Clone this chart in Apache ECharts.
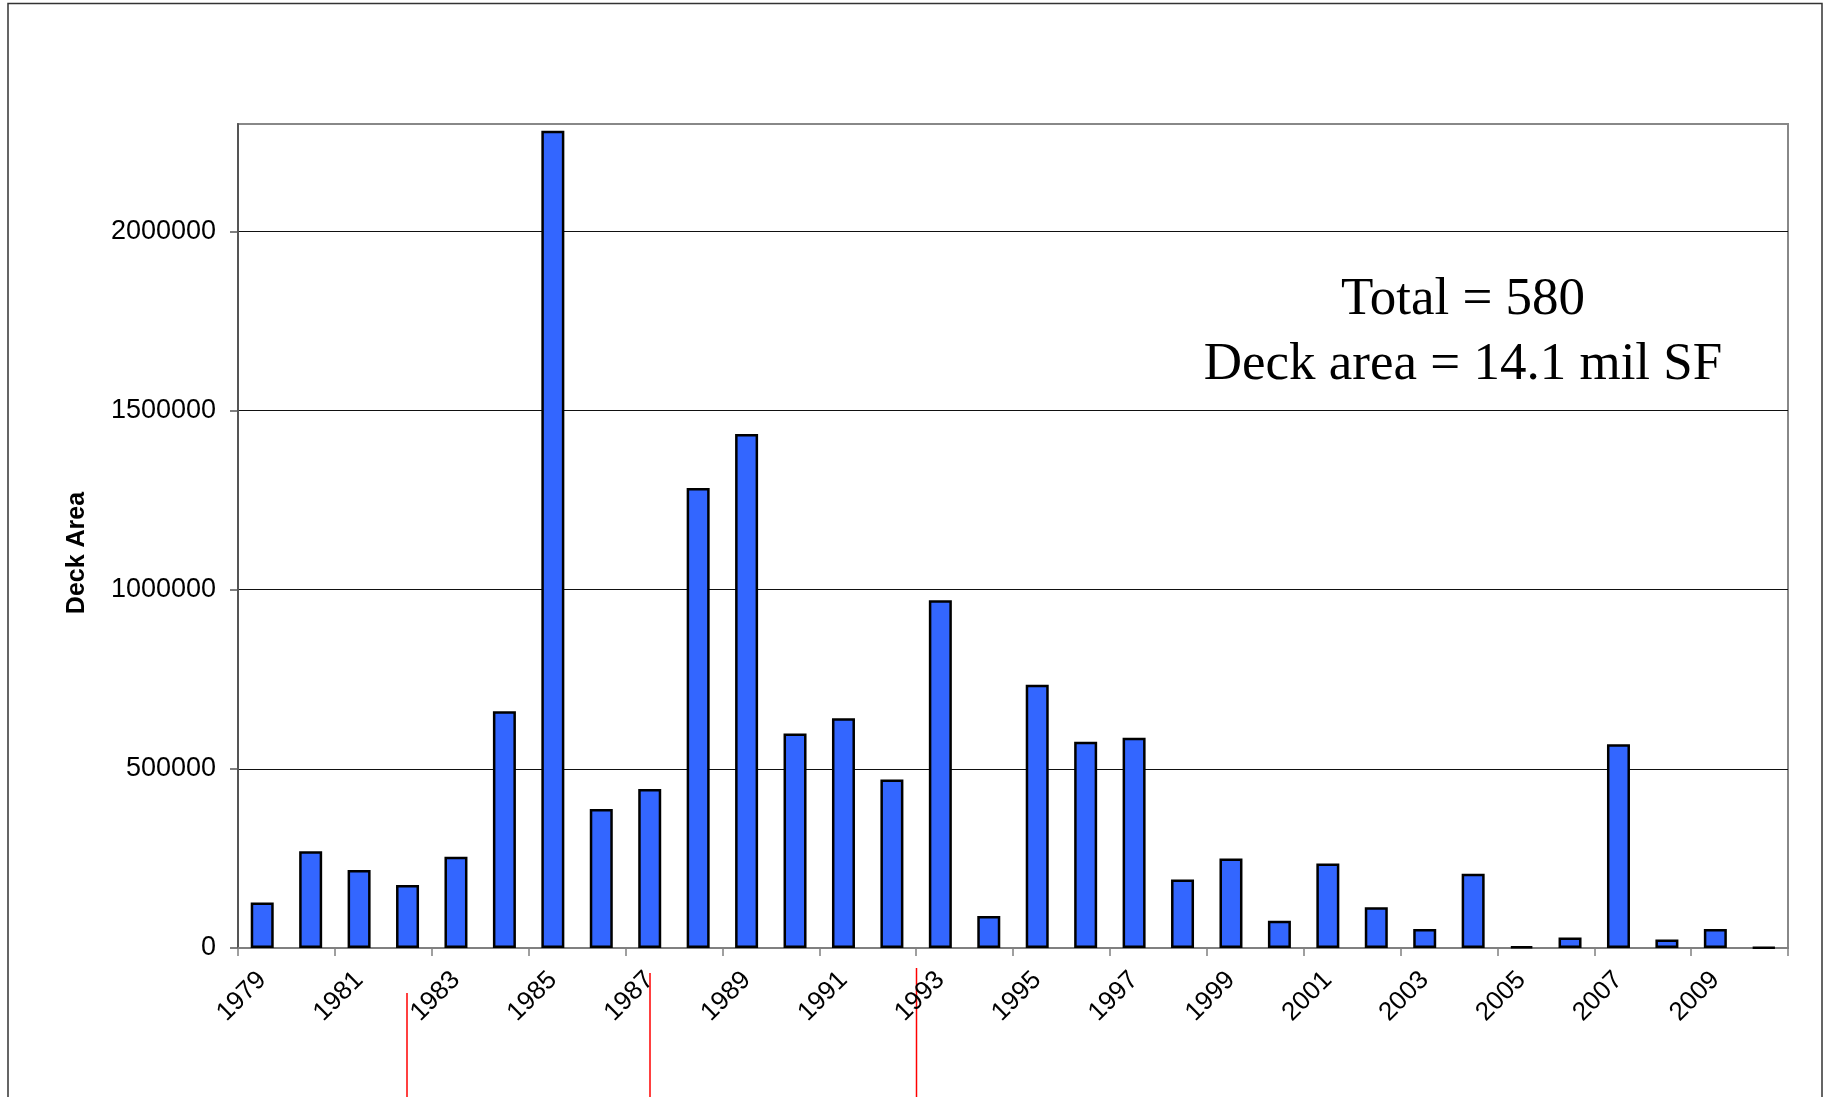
<!DOCTYPE html>
<html>
<head>
<meta charset="utf-8">
<style>
  html, body { margin: 0; padding: 0; background: #fff; }
  #chart { width: 1835px; height: 1097px; }
</style>
<script src="https://cdn.jsdelivr.net/npm/echarts@6/dist/echarts.min.js"></script>
</head>
<body>
<div id="chart"></div>
<script>
// years on the x axis
const years = ['1979', '1980', '1981', '1982', '1983', '1984', '1985', '1986', '1987', '1988',
  '1989', '1990', '1991', '1992', '1993', '1994', '1995', '1996', '1997', '1998',
  '1999', '2000', '2001', '2002', '2003', '2004', '2005', '2006', '2007', '2008',
  '2009', '2010']

// deck area per year (SF)
const deckArea = [127000, 270000, 218000, 176000, 255000, 661000, 2281000, 388000, 444000, 1284000,
  1435000, 599000, 641000, 470000, 971000, 89000, 735000, 576000, 587000, 191000,
  250000, 76000, 236000, 114000, 53000, 207000, 4000, 29000, 569000, 24000,
  53000, 2000]

const noteLines = ['Total = 580', 'Deck area = 14.1 mil SF']

const chart = echarts.init(document.getElementById('chart'))

const option = {
  animation: false,
  backgroundColor: '#fff',
  grid: {
    left: 238,
    right: 47,
    top: 124,
    bottom: 149,
    show: true,
    borderColor: '#888',
    borderWidth: 2
  },
  xAxis: {
    type: 'category',
    data: years,
    boundaryGap: true,
    axisLine: { lineStyle: { color: '#808080', width: 2 } },
    axisTick: { show: true, length: 8, lineStyle: { color: '#808080', width: 1.5 } },
    axisLabel: {
      interval: 1,
      rotate: 45,
      margin: 28,
      color: '#000',
      fontFamily: 'Liberation Sans',
      fontSize: 26
    },
    splitLine: { show: false }
  },
  yAxis: {
    type: 'value',
    min: 0,
    max: 2300000,
    interval: 500000,
    name: 'Deck Area',
    nameLocation: 'middle',
    nameRotate: 90,
    nameGap: 148,
    nameTextStyle: {
      color: '#000',
      fontFamily: 'Liberation Sans',
      fontWeight: 'bold',
      fontSize: 25,
      padding: [0, 34, 0, 0]
    },
    axisLine: { show: true, lineStyle: { color: '#555', width: 2 } },
    axisTick: { show: true, length: 8, lineStyle: { color: '#555', width: 1.5 } },
    axisLabel: {
      showMaxLabel: false,
      margin: 22,
      color: '#000',
      fontFamily: 'Liberation Sans',
      fontSize: 27,
      formatter: v => String(v)
    },
    splitLine: {
      show: true,
      showMinLine: false,
      showMaxLine: false,
      lineStyle: { color: '#111', width: 1.2 }
    }
  },
  series: [{
    type: 'bar',
    data: deckArea,
    barWidth: 23,
    itemStyle: {
      color: '#3366FF',
      borderColor: '#000',
      borderWidth: 2.5
    }
  }],
  graphic: [
    // outer frame of the slide
    {
      type: 'rect',
      shape: { x: 8, y: 3.5, width: 1814, height: 1200 },
      style: { fill: 'none', stroke: '#333', lineWidth: 1.5 },
      silent: true
    },
    {
      type: 'text',
      x: 1463,
      y: 333,
      style: {
        text: noteLines.join('\n'),
        font: '53px "Liberation Serif"',
        fill: '#000',
        align: 'center',
        verticalAlign: 'middle',
        lineHeight: 65
      }
    },
    // red marker lines below the axis
    { type: 'line', shape: { x1: 407, y1: 993, x2: 407, y2: 1097 }, style: { stroke: '#ff0000', lineWidth: 1.5 } },
    { type: 'line', shape: { x1: 650, y1: 973, x2: 650, y2: 1097 }, style: { stroke: '#ff0000', lineWidth: 1.5 } },
    { type: 'line', shape: { x1: 916.5, y1: 968, x2: 916.5, y2: 1097 }, style: { stroke: '#ff0000', lineWidth: 1.5 } }
  ]
}

chart.setOption(option)
</script>
</body>
</html>
